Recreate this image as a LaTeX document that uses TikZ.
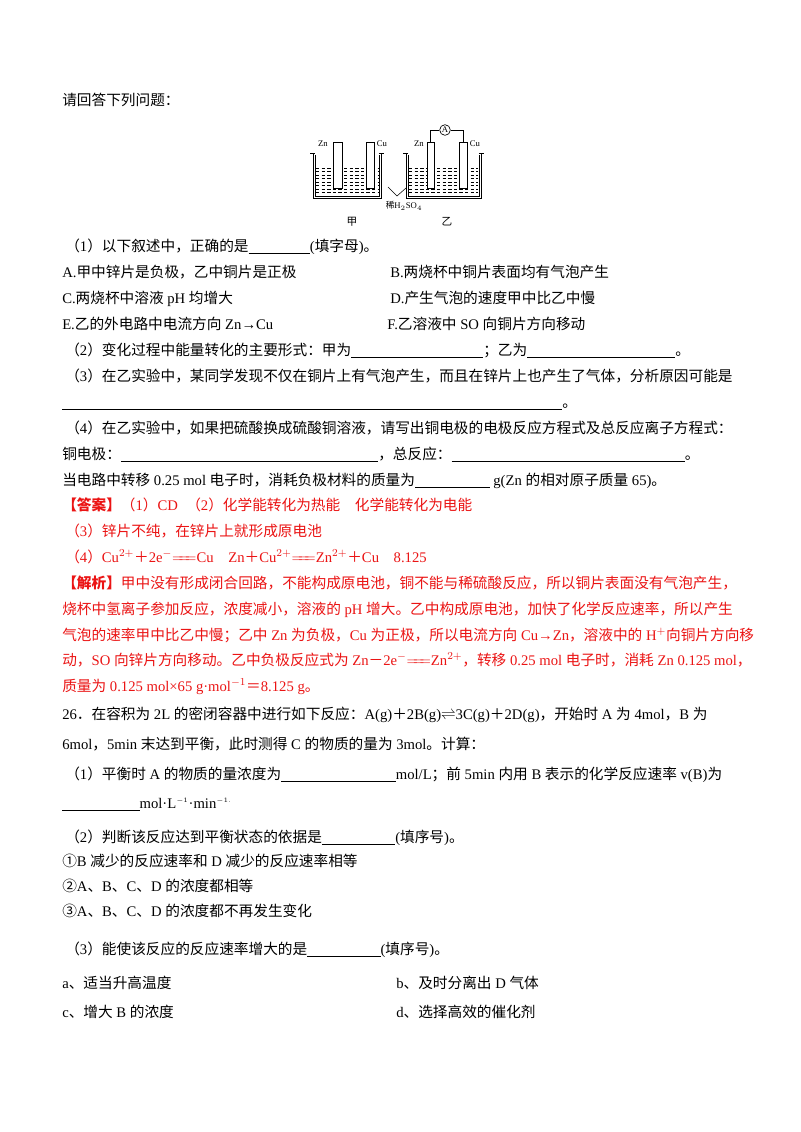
\documentclass[tikz,border=0pt]{standalone}
\usepackage{fontspec}
\setmainfont{Liberation Serif}
\newfontfamily\cjk{Noto Sans CJK SC}
\newcommand\latin{\rmfamily}
\XeTeXinterchartokenstate=1
\newXeTeXintercharclass\CJKcls
\newcount\cc
\def\setrange#1#2{\cc=#1 \loop \XeTeXcharclass\cc=\CJKcls \ifnum\cc<#2 \advance\cc by 1 \repeat}
\setrange{"2460}{"24FF}
\setrange{"3000}{"303F}
\setrange{"4E00}{"9FFF}
\setrange{"FF00}{"FFEF}
\XeTeXinterchartoks 0 \CJKcls = {\cjk}
\XeTeXinterchartoks 4095 \CJKcls = {\cjk}
\XeTeXinterchartoks \CJKcls 0 = {\latin}
\XeTeXinterchartoks \CJKcls 4095 = {\latin}
\XeTeXinterchartoks 4095 0 = {\latin}
\definecolor{ans}{RGB}{235,20,20}
\newcommand\blank[1]{\underline{\hspace{#1}}}
\newcommand\eq{$=\!\!=\!\!=$}
\begin{document}
\begin{tikzpicture}[x=0.75pt,y=-0.75pt,
  t/.style={anchor=base west,inner sep=0pt,font=\fontsize{11}{13}\selectfont},
  r/.style={t,text=ans},
  lab/.style={inner sep=0pt,font=\fontsize{6.5}{7}\selectfont},
  wall/.style={line width=0.5pt},
  liq/.style={line width=0.3pt,dash pattern=on 2.6pt off 1.6pt}]
\fill[white] (0,0) rectangle (800,1132);
\useasboundingbox (0,0) rectangle (800,1132);

\node[t] (q0) at (62,105) {请回答下列问题：};

% ---- figure ----
\foreach \y in {168,171.5,...,196} {
  \draw[liq] (316,\y) -- (378,\y);
  \draw[liq] (409,\y) -- (478,\y);
}
\draw[wall] (313,153) -- (313,198) -- (381,198) -- (381,153);
\draw[wall] (315,155) -- (315,196) -- (379,196) -- (379,155);
\draw[wall] (406,153) -- (406,198) -- (481,198) -- (481,153);
\draw[wall] (408,155) -- (408,196) -- (479,196) -- (479,155);
\draw[wall] (310,153) -- (315,153) (379,153) -- (384,153)
  (403,153) -- (408,153) (479,153) -- (484,153);
\filldraw[fill=white,line width=0.5pt] (333,142) rectangle (342,188);
\filldraw[fill=white,line width=0.5pt] (366,142) rectangle (374,188);
\filldraw[fill=white,line width=0.5pt] (427,142) rectangle (434,188);
\filldraw[fill=white,line width=0.5pt] (459,142) rectangle (467,188);
\node[draw,circle,line width=0.5pt,minimum size=8pt,inner sep=0pt,lab] (amm) at (445,130) {A};
\draw[line width=0.5pt] (430.5,142) |- (amm.west);
\draw[line width=0.5pt] (463,142) |- (amm.east);
\draw[line width=0.4pt] (388,187) -- (397,196) -- (406,188);
\node[lab] (zn1) at (323,144) {Zn};
\node[lab] (cu1) at (382,144) {Cu};
\node[lab] (zn2) at (419,144) {Zn};
\node[lab] (cu2) at (475,144) {Cu};
\node[lab] (acid) at (404,206) {稀H$_2$SO$_4$};
\node[lab,font=\fontsize{8}{9}\selectfont] (jia) at (352,222) {甲};
\node[lab,font=\fontsize{8}{9}\selectfont] (yi) at (447,222) {乙};

% ---- questions ----
\node[t] (l1) at (65,251) {（1）以下叙述中，正确的是\blank{46pt}(填字母)。};
\node[t] (a) at (62,277) {A.甲中锌片是负极，乙中铜片是正极};
\node[t] (b) at (390,277) {B.两烧杯中铜片表面均有气泡产生};
\node[t] (c) at (62,303) {C.两烧杯中溶液 pH 均增大};
\node[t] (d) at (390,303) {D.产生气泡的速度甲中比乙中慢};
\node[t] (e) at (62,329) {E.乙的外电路中电流方向 Zn→Cu};
\node[t] (f) at (387,329) {F.乙溶液中 SO 向铜片方向移动};
\node[t] (l2) at (65,355) {（2）变化过程中能量转化的主要形式：甲为\blank{99pt}；乙为\blank{111pt}。};
\node[t] (l3) at (65,381) {（3）在乙实验中，某同学发现不仅在铜片上有气泡产生，而且在锌片上也产生了气体，分析原因可能是};
\node[t] (l3b) at (62,407) {\blank{375pt}。};
\node[t] (l4) at (65,433) {（4）在乙实验中，如果把硫酸换成硫酸铜溶液，请写出铜电极的电极反应方程式及总反应离子方程式：};
\node[t] (l4b) at (62,459) {铜电极：\blank{193pt}，总反应：\blank{175pt}。};
\node[t] (l4c) at (62,485) {当电路中转移 0.25 mol 电子时，消耗负极材料的质量为\blank{56pt} g(Zn 的相对原子质量 65)。};

% ---- answer ----
\node[r] (ans1) at (62,510) {{\cjk\bfseries 【答案】}\cjk（1）CD};
\node[r] (ans2) at (186,510) {（2）化学能转化为热能　化学能转化为电能};
\node[r] (ans3) at (65,536) {（3）锌片不纯，在锌片上就形成原电池};
\node[r] (ans4) at (65,562) {（4）Cu$^{2+}$＋2e$^{-}$\eq Cu\quad Zn＋Cu$^{2+}$\eq Zn$^{2+}$＋Cu\quad 8.125};
\node[r] (x1) at (62,588) {{\cjk\bfseries 【解析】}\cjk 甲中没有形成闭合回路，不能构成原电池，铜不能与稀硫酸反应，所以铜片表面没有气泡产生，};
\node[r] (x2) at (62,614) {烧杯中氢离子参加反应，浓度减小，溶液的 pH 增大。乙中构成原电池，加快了化学反应速率，所以产生};
\node[r] (x3) at (62,640) {气泡的速率甲中比乙中慢；乙中 Zn 为负极，Cu 为正极，所以电流方向 Cu→Zn，溶液中的 H$^{+}$向铜片方向移};
\node[r] (x4) at (62,665) {动，SO 向锌片方向移动。乙中负极反应式为 Zn－2e$^{-}$\eq Zn$^{2+}$，转移 0.25 mol 电子时，消耗 Zn 0.125 mol，};
\node[r] (x5) at (62,691) {质量为 0.125 mol×65 g·mol$^{-1}$＝8.125 g。};

% ---- 26 ----
\node[t] (p1) at (62,719) {26．在容积为 2L 的密闭容器中进行如下反应：A(g)＋2B(g)$\rightleftharpoons$3C(g)＋2D(g)，开始时 A 为 4mol，B 为};
\node[t] (p2) at (62,749) {6mol，5min 末达到平衡，此时测得 C 的物质的量为 3mol。计算：};
\node[t] (p3) at (65,779) {（1）平衡时 A 的物质的量浓度为\blank{86pt}mol/L；前 5min 内用 B 表示的化学反应速率 v(B)为};
\node[t] (p4) at (62,808) {\blank{58pt}mol·L$^{\scriptscriptstyle -1}$·min$^{\scriptscriptstyle -1.}$};
\node[t] (p5) at (65,842) {（2）判断该反应达到平衡状态的依据是\blank{55pt}(填序号)。};
\node[t] (p6) at (62,866) {①B 减少的反应速率和 D 减少的反应速率相等};
\node[t] (p7) at (62,891) {②A、B、C、D 的浓度都相等};
\node[t] (p8) at (62,916) {③A、B、C、D 的浓度都不再发生变化};
\node[t] (p9) at (65,954) {（3）能使该反应的反应速率增大的是\blank{55pt}(填序号)。};
\node[t] (oa) at (62,988) {a、适当升高温度};
\node[t] (ob) at (396,988) {b、及时分离出 D 气体};
\node[t] (oc) at (62,1017) {c、增大 B 的浓度};
\node[t] (od) at (396,1017) {d、选择高效的催化剂};
\end{tikzpicture}
\end{document}
